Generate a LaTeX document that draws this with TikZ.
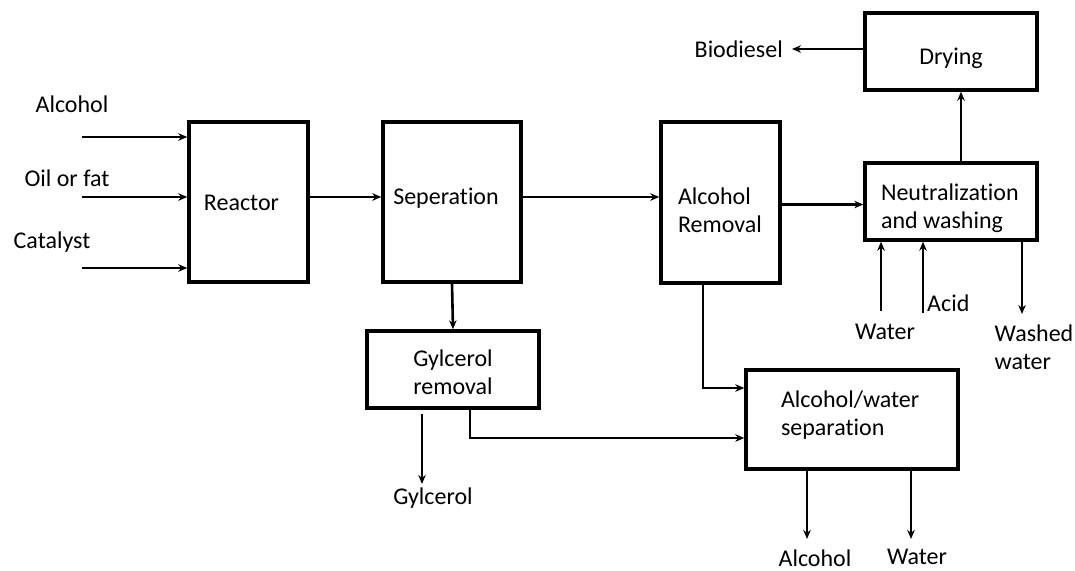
\documentclass[tikz,border=0pt]{standalone}
\usepackage{fontspec}
\setmainfont{Carlito}[Ligatures=NoCommon]
\usepackage{tikz}
\usetikzlibrary{arrows.meta,calc,positioning}

\begin{document}
\begin{tikzpicture}[x=1pt, y=-1pt, font=\fontsize{24}{28}\selectfont,
		>={Stealth[length=9pt, width=7.5pt]},
		unit/.style={draw, line width=3.4pt, inner sep=0pt, align=left},
		flow/.style={->, line width=2.6pt},
		lbl/.style={inner sep=0pt, align=left}]
		\useasboundingbox (0,0) rectangle (1075,570);
		% Process units
		\node[unit, minimum width=119pt, minimum height=160pt] (reactor) at (248.5,202) {\raisebox{-8.6pt}[0pt][0pt]{Reactor}\hspace{14pt}};
		\node[unit, minimum width=138pt, minimum height=160pt] (seperation) at (452,202) {\raisebox{-2.6pt}[0pt][0pt]{Seperation}\hspace{12pt}};
		\node[unit, minimum width=119pt, minimum height=161pt] (alcremoval) at (720.5,202.5) {\raisebox{-2.1pt}[0pt][0pt]{\parbox[t]{85pt}{Alcohol\\Removal}}};
		\node[unit, minimum width=172pt, minimum height=77pt] (drying) at (951,51.5) {\raisebox{-13.1pt}[0pt][0pt]{Drying}};
		\node[unit, minimum width=172pt, minimum height=77pt] (neutral) at (951,201.5) {\raisebox{0.9pt}[0pt][0pt]{\parbox[t]{140pt}{Neutralization\\and washing}}};
		\node[unit, minimum width=172pt, minimum height=77pt] (glyremoval) at (453,369.5) {\raisebox{2.9pt}[0pt][0pt]{\parbox[t]{85pt}{\centering Gylcerol\\removal}}};
		\node[unit, minimum width=212pt, minimum height=99pt] (alcwater) at (852,419.5) {\raisebox{11.9pt}[0pt][0pt]{\parbox[t]{142pt}{Alcohol/water\\separation}}};
		% Feed and product labels
		\node[lbl] (alcohol) at (72,104) {Alcohol};
		\node[lbl] (oil) at (67,178) {Oil or fat};
		\node[lbl] (catalyst) at (52,242) {Catalyst};
		\node[lbl, anchor=east, inner xsep=9pt] (biodiesel) at (792,49) {Biodiesel};
		\node[lbl] (water) at (885,332) {Water};
		\node[lbl, anchor=west] (acid) at (927,303) {Acid};
		\node[lbl] (washed) at (1034,347) {Washed\\water};
		\node[lbl] (glycerol) at (433,498) {Gylcerol};
		\node[lbl] (alcout) at (815,558) {Alcohol};
		\node[lbl] (waterout) at (917,557) {Water};
		% Free ends
		\coordinate (in1) at (82,137);
		\coordinate (in2) at (82,197);
		\coordinate (in3) at (82,268);
		\coordinate (dryout) at ([yshift=2.5pt]drying.west);
		\coordinate (waterin) at (881,311);
		\coordinate (acidin) at (923,313);
		\coordinate (washout) at (1022,314);
		\coordinate (glytop) at (422,414);
		\coordinate (glyend) at (422,484);
		\coordinate (alcend) at (807,539);
		\coordinate (watend) at (911,539);
		\coordinate (glybend) at (470,438);
		\coordinate (alcbend) at (703,388);
		% Streams
		\draw[flow] (in1) -- (in1 -| reactor.west);
		\draw[flow] (in2) -- (in2 -| reactor.west);
		\draw[flow] (in3) -- (in3 -| reactor.west);
		\draw[flow] ([yshift=5pt]reactor.east) -- ([yshift=5pt]seperation.west);
		\draw[flow] ([yshift=5pt]seperation.east) -- ([yshift=5pt]seperation.east -| alcremoval.west);
		\draw[flow] ([yshift=-2pt]alcremoval.east) -- ([yshift=-2pt]alcremoval.east -| neutral.west);
		\draw[flow] ([xshift=10pt]neutral.north) -- ([xshift=10pt]drying.south);
		\draw[flow] (dryout) -- (dryout -| biodiesel.east);
		\draw[flow] (waterin) -- (waterin |- neutral.south);
		\draw[flow] (acidin) -- (acidin |- neutral.south);
		\draw[flow] (washout |- neutral.south) -- (washout);
		\draw[flow] (seperation.south) -- (glyremoval.north);
		\draw[flow] (glytop) -- (glyend);
		\draw[flow] (glybend |- glyremoval.south) |- (glybend -| alcwater.west);
		\draw[flow] (alcbend |- alcremoval.south) |- (alcbend -| alcwater.west);
		\draw[flow] (alcend |- alcwater.south) -- (alcend);
		\draw[flow] (watend |- alcwater.south) -- (watend);
	\end{tikzpicture}
\end{document}
